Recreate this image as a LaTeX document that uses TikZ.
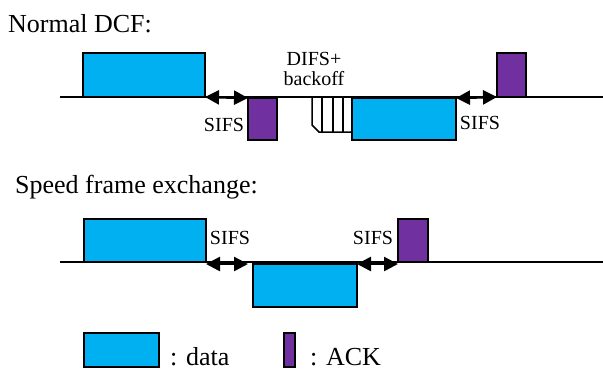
\documentclass[tikz,border=0pt]{standalone}
\usepackage{fontspec}
\setmainfont{LiberationSerif}[Extension=.ttf,UprightFont=*-Regular,BoldFont=*-Bold,ItalicFont=*-Italic,BoldItalicFont=*-BoldItalic]
\usetikzlibrary{arrows.meta}
\definecolor{datacol}{RGB}{0,176,240}
\definecolor{ackcol}{RGB}{112,48,160}
\begin{document}
\begin{tikzpicture}[x=1pt,y=-1pt,
  databox/.style={draw=black,line width=1.5pt,fill=datacol,inner sep=0pt,outer sep=0pt},
  ackbox/.style={draw=black,line width=1.5pt,fill=ackcol,inner sep=0pt,outer sep=0pt},
  timeline/.style={draw=black,line width=1.5pt},
  sifsarrow/.style={line width=2.5pt,{Triangle[length=14pt,width=14pt]}-{Triangle[length=14pt,width=14pt]}},
  title/.style={font=\rmfamily\fontsize{26}{30}\selectfont,anchor=base west,inner sep=0pt},
  lbl/.style={font=\rmfamily\fontsize{20}{22}\selectfont,inner sep=0pt}]
\useasboundingbox (0,0) rectangle (603,378);
% titles
\node[title] (t1) at (8,32) {Normal DCF:};
\node[title] (t2) at (15,193) {Speed frame exchange:};
% top timeline
\coordinate (l1a) at (60,97);
\coordinate (l1b) at (603,97);
\draw[timeline] (l1a) -- (l1b);
\node[databox,minimum width=122pt,minimum height=44pt,anchor=south west] (d1) at (83,97) {};
\node[ackbox,minimum width=29pt,minimum height=42pt,anchor=north west] (a1) at (248,98) {};
% backoff
\draw[line width=1.5pt,fill=white] (312,98) -- (312,125) -- (319,132) -- (352,132);
\foreach \x in {322,333,343} \draw[line width=1.5pt] (\x,98) -- (\x,132);
\node[databox,minimum width=104pt,minimum height=42pt,anchor=north west] (d2) at (352,98) {};
\node[ackbox,minimum width=29pt,minimum height=44pt,anchor=south west] (a2) at (497,97) {};
\draw[sifsarrow] (d1.south east) -- (a1.north west);
\draw[sifsarrow] (d2.north east) -- (a2.south west);
\node[lbl] (s1) at (224,125) {SIFS};
\node[lbl] (s2) at (480,123) {SIFS};
\node[lbl,align=center] (difs) at (314,69) {DIFS+\\[-2pt]backoff};
% bottom timeline
\coordinate (l2a) at (60,262);
\coordinate (l2b) at (603,262);
\draw[timeline] (l2a) -- (l2b);
\node[databox,minimum width=122pt,minimum height=43pt,anchor=south west] (d3) at (84,262) {};
\node[databox,minimum width=104pt,minimum height=43pt,anchor=north west] (d4) at (253,264) {};
\node[ackbox,minimum width=30pt,minimum height=43pt,anchor=south west] (a3) at (398,262) {};
\coordinate (e1) at (248,264);
\coordinate (e2) at (206,264);
\draw[sifsarrow] (e2) -- (e1);
\coordinate (e3) at (357,264);
\coordinate (e4) at (398,264);
\draw[sifsarrow] (e3) -- (e4);
\node[lbl] (s3) at (230,238) {SIFS};
\node[lbl] (s4) at (373,238) {SIFS};
% legend
\node[databox,minimum width=75pt,minimum height=34pt,anchor=north west] (ld) at (84,333) {};
\node[title] (ldt) at (170,365) {: data};
\node[ackbox,minimum width=11pt,minimum height=34pt,anchor=north west] (la) at (284,333) {};
\node[title] (lat) at (310,365) {: ACK};
\end{tikzpicture}
\end{document}
